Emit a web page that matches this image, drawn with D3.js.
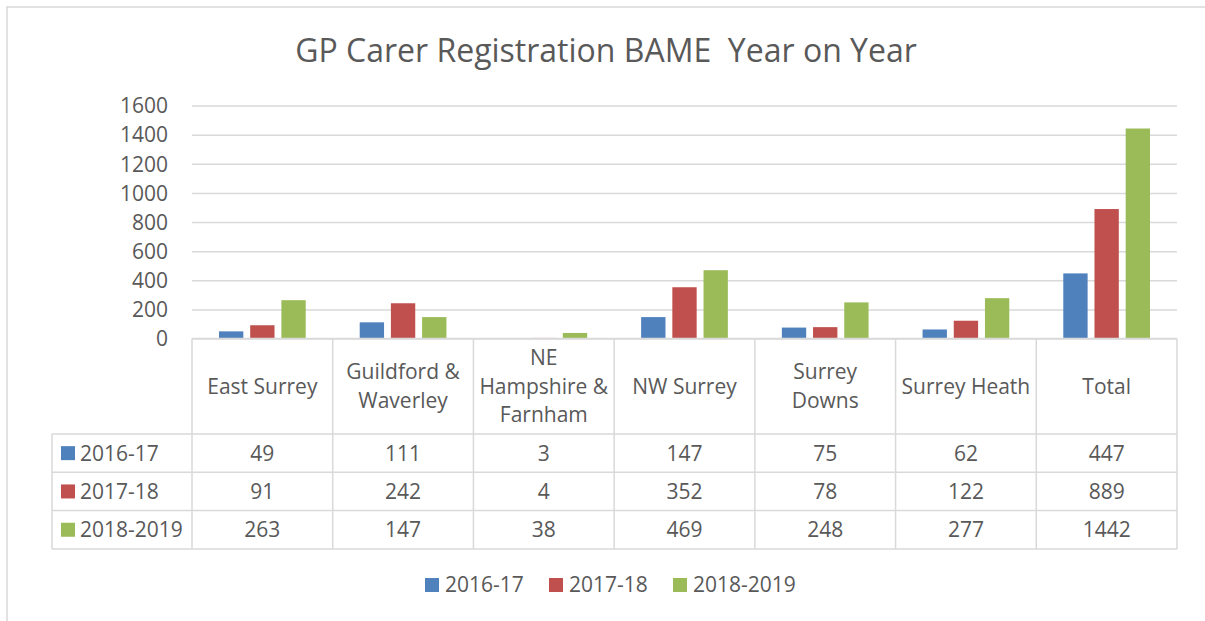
<!DOCTYPE html>
<html lang="en">
<head>
  <meta charset="UTF-8">
  <title>GP Carer Registration BAME Year on Year</title>
  <script src="https://d3js.org/d3.v7.min.js"></script>
  <style>
    body { margin: 0; background: #fff; }
    text { font-family: "Open Sans", "Liberation Sans", sans-serif; fill: #595959; }
  </style>
</head>
<body>
<div id="chart"></div>
<script>
// data
var categories = ["East Surrey", "Guildford & Waverley", "NE Hampshire & Farnham", "NW Surrey", "Surrey Downs", "Surrey Heath", "Total"];
var categoryLines = [["East Surrey"], ["Guildford &", "Waverley"], ["NE", "Hampshire &", "Farnham"], ["NW Surrey"], ["Surrey", "Downs"], ["Surrey Heath"], ["Total"]];
var seriesNames = ["2016-17", "2017-18", "2018-2019"];
var values2016 = [49, 111, 3, 147, 75, 62, 447];
var values2017 = [91, 242, 4, 352, 78, 122, 889];
var values2018 = [263, 147, 38, 469, 248, 277, 1442];
var yTicks = [0, 200, 400, 600, 800, 1000, 1200, 1400, 1600];
var colors = ["#4f81bd", "#c0504d", "#9bbb59"];

var series = [values2016, values2017, values2018];

var W = 1205, H = 621;
var plotLeft = 192, plotRight = 1177, plotTop = 105.5, plotBottom = 338.5;
var tableLeft = 52, headerBottom = 434, rowH = 38.3;
var fs = "21px";

var svg = d3.select("#chart").append("svg")
  .attr("width", W).attr("height", H);

// outer frame
svg.append("rect")
  .attr("x", 7).attr("y", 7).attr("width", W).attr("height", H)
  .attr("fill", "none").attr("stroke", "#d9d9d9").attr("stroke-width", 1.5);

// title
svg.append("text")
  .attr("x", 606).attr("y", 62)
  .attr("text-anchor", "middle")
  .attr("xml:space", "preserve")
  .style("font-size", "32px")
  .text("GP Carer Registration BAME  Year on Year");

var x = d3.scaleBand().domain(categories).range([plotLeft, plotRight]);
var x1 = d3.scaleBand().domain(seriesNames).range([27, x.bandwidth() - 27]).paddingInner(0.22);
var y = d3.scaleLinear().domain([0, 1600]).range([plotBottom, plotTop]);

// gridlines + y labels
var yAxis = d3.axisLeft(y).tickValues(yTicks).tickFormat(d3.format("d"))
  .tickSize(-(plotRight - plotLeft)).tickPadding(24);
var gy = svg.append("g").attr("transform", "translate(" + plotLeft + ",0)").call(yAxis);
gy.select(".domain").remove();
gy.selectAll("line").attr("stroke", "#d9d9d9").attr("stroke-width", 1.5);
gy.selectAll("text").style("font-size", fs).attr("fill", "#595959").attr("dy", "0.35em");

// bars
var groups = svg.selectAll(".grp").data(categories).enter().append("g")
  .attr("class", "grp")
  .attr("transform", function(d) { return "translate(" + x(d) + ",0)"; });

groups.selectAll("rect").data(function(d, i) {
    return series.map(function(s, j) { return { name: seriesNames[j], v: s[i], c: colors[j] }; });
  }).enter().append("rect")
  .attr("x", function(d) { return x1(d.name); })
  .attr("width", x1.bandwidth())
  .attr("y", function(d) { return y(d.v); })
  .attr("height", function(d) { return plotBottom - y(d.v); })
  .attr("fill", function(d) { return d.c; });

// data table
var tbl = svg.append("g");
var lineColor = "#d9d9d9";
var tableBottom = headerBottom + rowH * 3;

// vertical lines
var vx = [plotLeft].concat(categories.map(function(d) { return x(d) + x.bandwidth(); }));
vx.forEach(function(v) {
  tbl.append("line").attr("x1", v).attr("x2", v).attr("y1", plotBottom).attr("y2", tableBottom)
    .attr("stroke", lineColor).attr("stroke-width", 1.5);
});
tbl.append("line").attr("x1", tableLeft).attr("x2", tableLeft).attr("y1", headerBottom).attr("y2", tableBottom)
  .attr("stroke", lineColor).attr("stroke-width", 1.5);
// horizontal lines
tbl.append("line").attr("x1", plotLeft).attr("x2", plotRight).attr("y1", plotBottom).attr("y2", plotBottom)
  .attr("stroke", lineColor).attr("stroke-width", 1.5);
[0, 1, 2, 3].forEach(function(r) {
  var yy = headerBottom + r * rowH;
  tbl.append("line").attr("x1", tableLeft).attr("x2", plotRight).attr("y1", yy).attr("y2", yy)
    .attr("stroke", lineColor).attr("stroke-width", 1.5);
});

// category labels in header
var headerMid = (plotBottom + headerBottom) / 2;
categories.forEach(function(c, i) {
  var lines = categoryLines[i];
  var lh = 28.5;
  var t = tbl.append("text").attr("text-anchor", "middle").style("font-size", fs);
  lines.forEach(function(l, k) {
    t.append("tspan")
      .attr("x", x(c) + x.bandwidth() / 2)
      .attr("y", headerMid + (k - (lines.length - 1) / 2) * lh)
      .attr("dy", "0.35em")
      .text(l);
  });
});

// rows
series.forEach(function(s, j) {
  var cy = headerBottom + (j + 0.5) * rowH;
  tbl.append("rect").attr("x", 61).attr("y", cy - 7).attr("width", 14).attr("height", 14).attr("fill", colors[j]);
  tbl.append("text").attr("x", 80).attr("y", cy).attr("dy", "0.35em").style("font-size", fs).text(seriesNames[j]);
  categories.forEach(function(c, i) {
    tbl.append("text").attr("x", x(c) + x.bandwidth() / 2).attr("y", cy).attr("dy", "0.35em")
      .attr("text-anchor", "middle").style("font-size", fs).text(s[i]);
  });
});

// legend
var legendX = [425, 549, 673];
var leg = svg.append("g");
seriesNames.forEach(function(n, j) {
  leg.append("rect").attr("x", legendX[j]).attr("y", 578).attr("width", 14).attr("height", 14).attr("fill", colors[j]);
  leg.append("text").attr("x", legendX[j] + 20).attr("y", 585).attr("dy", "0.35em").style("font-size", fs).text(n);
});
</script>
</body>
</html>
